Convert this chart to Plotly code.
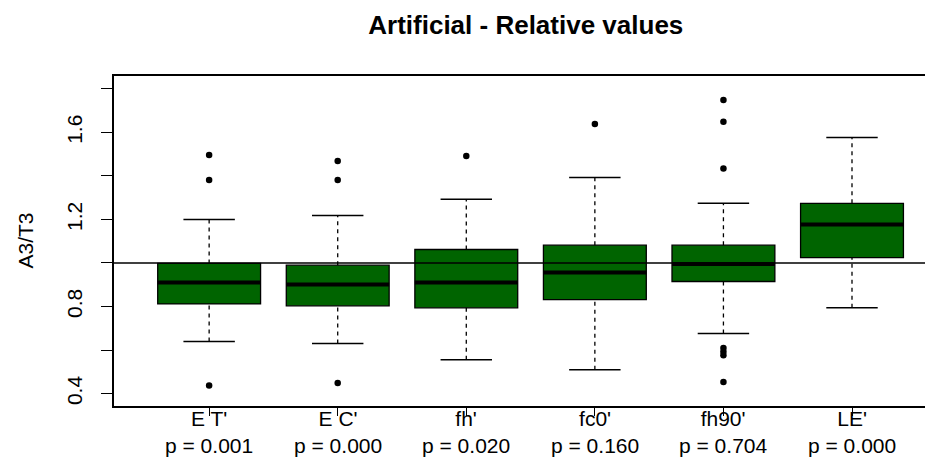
import plotly.graph_objects as go

# ---- data ----
categories = ["E T'", "E C'", "fh'", "fc0'", "fh90'", "LE'"]
p_values = ["p = 0.001", "p = 0.000", "p = 0.020", "p = 0.160", "p = 0.704", "p = 0.000"]
q1 = [0.812, 0.803, 0.794, 0.832, 0.915, 1.025]
median = [0.910, 0.901, 0.910, 0.956, 0.995, 1.177]
q3 = [0.998, 0.990, 1.062, 1.082, 1.082, 1.274]
lower_whisker = [0.639, 0.630, 0.556, 0.510, 0.676, 0.794]
upper_whisker = [1.200, 1.218, 1.293, 1.393, 1.274, 1.577]
outliers = [
    [1.496, 1.381, 0.437],
    [1.468, 1.381, 0.449],
    [1.491],
    [1.638],
    [1.749, 1.649, 1.434, 0.610, 0.592, 0.576, 0.453],
    [],
]
reference_line = 1.0
y_tick_values = [0.4, 0.6, 0.8, 1.0, 1.2, 1.4, 1.6, 1.8]
y_tick_labels = ["0.4", "", "0.8", "", "1.2", "", "1.6", ""]

positions = list(range(1, len(categories) + 1))
BOX_W = 0.8
CAP_W = 0.4
FONT = "Liberation Sans, Arial, sans-serif"
GREEN = "#006400"

# page body has an 8px default margin: size the figure to fit the window
PAGE_PAD = 8
FIG_W, FIG_H = 933 - PAGE_PAD, 461 - PAGE_PAD
L, T = 114.4 - PAGE_PAD, 76 - PAGE_PAD
B = FIG_H - (405.7 - PAGE_PAD)
PLOT_W = FIG_W - L

fig = go.Figure()

# boxes (no plotly whiskers; R-style dashed whiskers drawn separately)
fig.add_trace(go.Box(
    x=positions, q1=q1, median=median, q3=q3,
    lowerfence=q1, upperfence=q3,
    width=BOX_W, whiskerwidth=0, boxpoints=False,
    fillcolor=GREEN, line=dict(color="black", width=1.3),
    hoverinfo="skip", showlegend=False,
))

# thick medians
mx, my = [], []
for p, m in zip(positions, median):
    mx += [p - BOX_W / 2, p + BOX_W / 2, None]
    my += [m, m, None]
fig.add_trace(go.Scatter(x=mx, y=my, mode="lines",
                         line=dict(color="black", width=4),
                         hoverinfo="skip", showlegend=False))

# dashed whiskers
wx, wy = [], []
for p, a, b, lo, hi in zip(positions, q1, q3, lower_whisker, upper_whisker):
    wx += [p, p, None, p, p, None]
    wy += [lo, a, None, b, hi, None]
fig.add_trace(go.Scatter(x=wx, y=wy, mode="lines",
                         line=dict(color="black", width=1.3, dash="4px,4px"),
                         hoverinfo="skip", showlegend=False))

# whisker caps
cx, cy = [], []
for p, lo, hi in zip(positions, lower_whisker, upper_whisker):
    cx += [p - CAP_W / 2, p + CAP_W / 2, None, p - CAP_W / 2, p + CAP_W / 2, None]
    cy += [lo, lo, None, hi, hi, None]
fig.add_trace(go.Scatter(x=cx, y=cy, mode="lines",
                         line=dict(color="black", width=1.5),
                         hoverinfo="skip", showlegend=False))

# outliers
ox, oy = [], []
for p, outs in zip(positions, outliers):
    for v in outs:
        ox.append(p)
        oy.append(v)
fig.add_trace(go.Scatter(x=ox, y=oy, mode="markers",
                         marker=dict(color="black", size=6.5, symbol="circle"),
                         hoverinfo="skip", showlegend=False))

fig.add_hline(y=reference_line, line=dict(color="black", width=1.3))

# category labels (two lines) placed like R's axis labels, overlapping the ticks
annotations = []
for p, c, pv in zip(positions, categories, p_values):
    annotations.append(dict(
        text=f"{c}<br>{pv}", x=p, xref="x", y=0, yref="paper",
        xanchor="center", yanchor="top", yshift=1, showarrow=False,
        font=dict(family=FONT, size=21, color="black"),
    ))
annotations.append(dict(
    text="A3/T3", textangle=-90, xref="paper", yref="paper",
    x=(25 - PAGE_PAD - L) / PLOT_W, y=0.5, xanchor="center", yanchor="middle",
    showarrow=False, font=dict(family=FONT, size=21, color="black"),
))

fig.update_layout(
    width=FIG_W, height=FIG_H,
    margin=dict(l=L, r=0, t=T, b=B, autoexpand=False),
    paper_bgcolor="white", plot_bgcolor="white",
    font=dict(family=FONT, size=21, color="black"),
    title=dict(text="<b>Artificial - Relative values</b>",
               x=(526 - PAGE_PAD - L) / PLOT_W, xref="paper", xanchor="center",
               y=1 - 17 / FIG_H, yref="container", yanchor="middle",
               font=dict(family=FONT, size=26, color="black")),
    xaxis=dict(
        range=[0.26, 6.63], showgrid=False, zeroline=False, automargin=False,
        showline=True, mirror=True, linecolor="black", linewidth=1.5,
        tickmode="array", tickvals=positions, ticktext=[""] * len(positions),
        ticks="outside", ticklen=8, tickcolor="black", tickwidth=1.3,
    ),
    yaxis=dict(
        range=[0.343, 1.859], showgrid=False, zeroline=False, automargin=False,
        showline=True, linecolor="black", linewidth=1.5,
        tickmode="array", tickvals=y_tick_values, ticktext=y_tick_labels,
        ticks="outside", ticklen=11, tickcolor="black", tickwidth=1.3,
        tickangle=-90, ticklabelstandoff=11,
        tickfont=dict(family=FONT, size=21, color="black"),
    ),
    annotations=annotations,
)

fig.write_html("out.html")
